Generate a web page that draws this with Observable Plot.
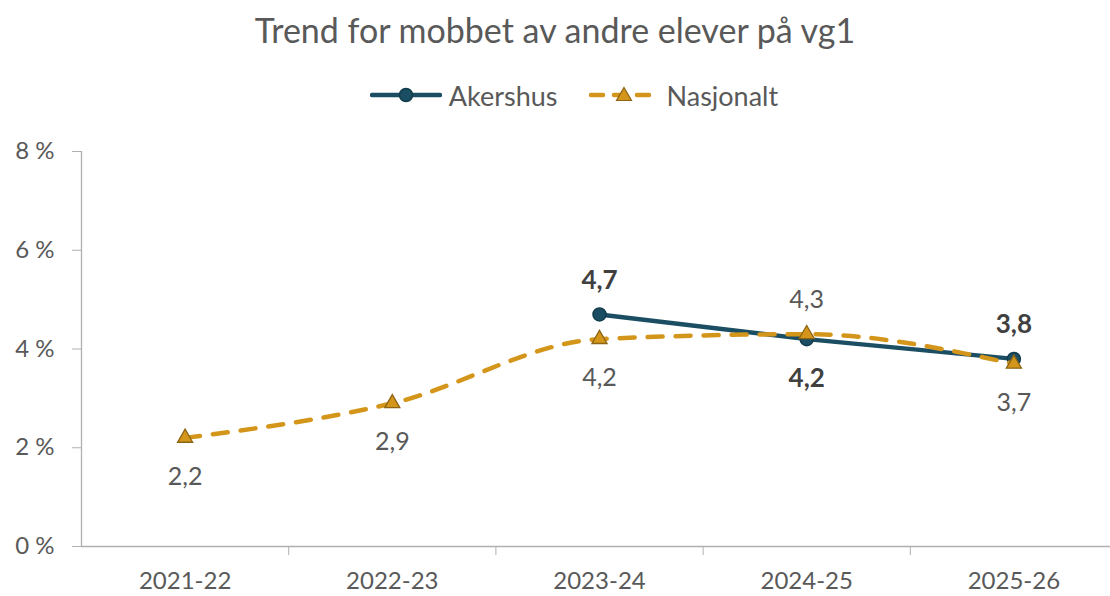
<!DOCTYPE html>
<html><head><meta charset="utf-8">
<script src="https://cdn.jsdelivr.net/npm/d3@7"></script>
<script src="https://cdn.jsdelivr.net/npm/@observablehq/plot@0.6"></script>
<style>
body{margin:0;background:#fff;font-family:Lato,sans-serif;color:#595959;width:1110px;height:596px;overflow:hidden}
#title{height:65px;line-height:60px;text-align:center;font-size:34px;}
#legend{height:60px;display:flex;justify-content:center;align-items:center;font-size:27px;padding-left:38px}
.item{display:flex;align-items:center;margin:0 15px}
.item svg{margin-right:7px}
</style></head>
<body>
<div id="title">Trend for mobbet av andre elever på vg1</div>
<div id="legend"></div>
<div id="chart"></div>
<script>
const seasons = ["2021-22","2022-23","2023-24","2024-25","2025-26"];
const akershus = [null, null, 4.7, 4.2, 3.8];
const nasjonalt = [2.2, 2.9, 4.2, 4.3, 3.7];
const yTicks = [0, 2, 4, 6, 8];

const akColor = "#1b4e62", akStroke = "#123d4d";
const naColor = "#d4961a", naStroke = "#8c6414";
const axisColor = "#b0b0b0";

const idx = d3.range(seasons.length);
const akRows = idx.map(i => ({i, value: akershus[i], other: nasjonalt[i]}));
const naRows = idx.map(i => ({i, value: nasjonalt[i], other: akershus[i]}));
const fmt = v => v.toFixed(1).replace(".", ",");
const above = d => d.other != null && d.value > d.other;

document.getElementById("legend").innerHTML = `
<div class="item"><svg width="72" height="20"><line x1="2" x2="70" y1="10" y2="10" stroke="${akColor}" stroke-width="4.5" stroke-linecap="round"/><circle cx="36" cy="10" r="6.5" fill="${akColor}" stroke="${akStroke}" stroke-width="1.5"/></svg>Akershus</div>
<div class="item"><svg width="72" height="20"><line x1="3" x2="69" y1="10" y2="10" stroke="${naColor}" stroke-width="4.5" stroke-dasharray="12,11" stroke-linecap="round"/><path d="M36,2.5 L43.5,15.5 L28.5,15.5 Z" fill="${naColor}" stroke="${naStroke}" stroke-width="1.2"/></svg>Nasjonalt</div>`;

const chart = Plot.plot({
  width: 1110,
  height: 471,
  marginTop: 26,
  marginBottom: 50,
  marginLeft: 81,
  marginRight: 0,
  style: {fontFamily: "Lato, sans-serif", fontSize: "24px", color: "#595959", background: "#fff", overflow: "visible"},
  x: {type: "linear", domain: [-0.5, seasons.length - 0.5], range: [81, 1117]},
  y: {domain: [0, 8]},
  marks: [
    Plot.ruleX([-0.5], {y1: 0, y2: 8, stroke: axisColor, strokeWidth: 1.3}),
    Plot.ruleY([0], {stroke: axisColor, strokeWidth: 1.3}),
    Plot.axisY({ticks: yTicks, tickSize: 9, tickPadding: 18, tickFormat: d => d + " %", fontSize: 24, stroke: axisColor, fill: "#595959", label: null}),
    Plot.axisX({ticks: idx.slice(1).map(i => i - 0.5), tickSize: 9, tickFormat: () => "", stroke: axisColor, label: null}),
    Plot.axisX({ticks: idx, tickSize: 0, tickPadding: 25, tickFormat: i => seasons[i], fontSize: 24, fill: "#595959", label: null}),
    Plot.line(akRows, {x: "i", y: "value", stroke: akColor, strokeWidth: 4.5}),
    Plot.dot(akRows.filter(d => d.value != null), {x: "i", y: "value", r: 6.5, fill: akColor, stroke: akStroke, strokeWidth: 1.5}),
    Plot.line(naRows, {x: "i", y: "value", curve: "monotone-x", stroke: naColor, strokeWidth: 4.5, strokeDasharray: "15,13", strokeLinecap: "round"}),
    Plot.dot(naRows, {x: "i", y: "value", symbol: "triangle", r: 5.6, fill: naColor, stroke: naStroke, strokeWidth: 1.3}),
    Plot.text(akRows.filter(d => d.value != null), {x: "i", y: "value", text: d => fmt(d.value), fontSize: 26, fontWeight: "bold", fill: "#404040",
      filter: d => above(d), dy: -34}),
    Plot.text(akRows.filter(d => d.value != null), {x: "i", y: "value", text: d => fmt(d.value), fontSize: 26, fontWeight: "bold", fill: "#404040",
      filter: d => !above(d), dy: 40}),
    Plot.text(naRows, {x: "i", y: "value", text: d => fmt(d.value), fontSize: 25, fill: "#595959", filter: d => above(d), dy: -34}),
    Plot.text(naRows, {x: "i", y: "value", text: d => fmt(d.value), fontSize: 25, fill: "#595959", filter: d => !above(d), dy: 39})
  ]
});
document.getElementById("chart").appendChild(chart);
</script>
</body></html>
